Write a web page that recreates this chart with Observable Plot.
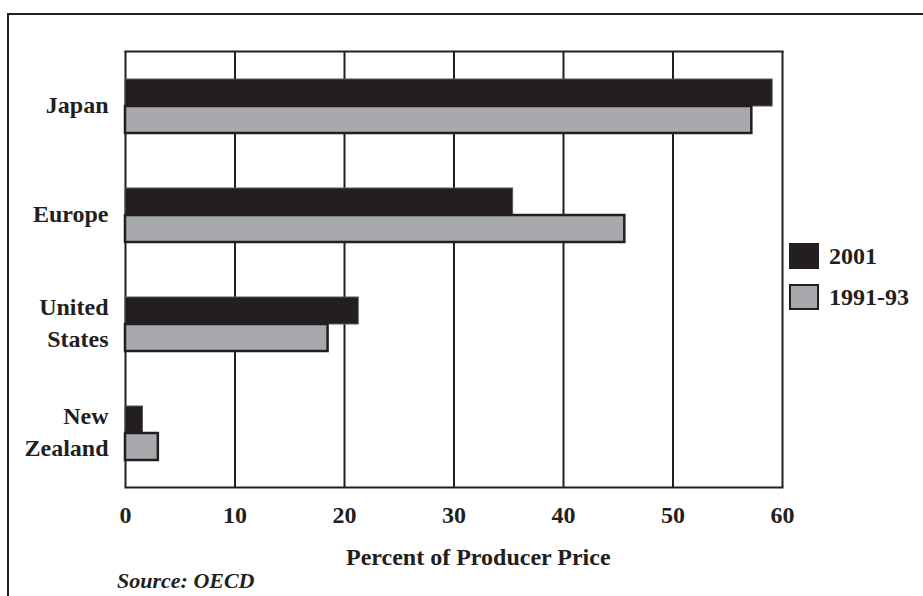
<!DOCTYPE html>
<html>
<head>
<meta charset="utf-8">
<script src="https://cdn.jsdelivr.net/npm/d3@7"></script>
<script src="https://cdn.jsdelivr.net/npm/@observablehq/plot@0.6"></script>
<style>
  body { margin: 0; background: #fff; }
  #wrap { position: relative; width: 923px; height: 596px; overflow: hidden;
          font-family: "Liberation Serif", serif; color: #231f20; }
  #border { position: absolute; left: 7px; top: 13px; right: -10px; bottom: -10px;
            border-top: 2px solid #231f20; border-left: 2px solid #231f20; }
  #chart { position: absolute; left: 0; top: 0; }
  #legend { position: absolute; left: 789px; top: 243px; font-weight: bold; font-size: 24px; }
  .item { display: flex; align-items: center; height: 26px; margin-bottom: 15px; white-space: nowrap; }
  .sw { width: 30px; height: 26px; box-sizing: border-box; margin-right: 10px; }
  #xlabel { position: absolute; left: 346px; top: 544px; font-weight: bold; font-size: 24px; white-space: nowrap; }
  #source { position: absolute; left: 117px; top: 568px; font-style: italic; font-weight: bold; font-size: 22px; }
</style>
</head>
<body>
<div id="wrap">
  <div id="border"></div>
  <div id="chart"></div>
  <div id="legend"></div>
  <div id="xlabel"></div>
  <div id="source">Source: OECD</div>
</div>
<script>
const countries = ["Japan", "Europe", "United States", "New Zealand"];
const series = ["2001", "1991-93"];
const values2001 = [59.1, 35.4, 21.3, 1.6];
const values9193 = [57.2, 45.6, 18.5, 3.0];
const xTicks = [0, 10, 20, 30, 40, 50, 60];
const seriesFill = ["#231f20", "#a7a9ac"];
const seriesStroke = ["#58595b", "#231f20"];
const xLabel = "Percent of Producer Price";

const data = countries.flatMap((c, i) => [
  {country: c, series: series[0], value: values2001[i]},
  {country: c, series: series[1], value: values9193[i]}
]);

const ink = "#231f20";

const chart = Plot.plot({
  width: 923,
  height: 596,
  marginLeft: 125,
  marginRight: 141,
  marginTop: 49,
  marginBottom: 108,
  style: {fontFamily: "'Liberation Serif', serif", fontSize: "24px", fontWeight: "bold",
          color: ink, background: "transparent", overflow: "visible"},
  x: {domain: [0, 60]},
  y: {domain: series, paddingInner: 0, paddingOuter: 1, axis: null},
  fy: {domain: countries, padding: 0},
  color: {domain: series, range: seriesFill},
  marks: [
    Plot.ruleX(xTicks, {stroke: ink, strokeWidth: 2}),
    Plot.barX(data, {filter: d => d.series === series[0], x: "value", y: "series", fy: "country",
                     fill: "series", stroke: seriesStroke[0], strokeWidth: 1}),
    Plot.barX(data, {filter: d => d.series === series[1], x: "value", y: "series", fy: "country",
                     fill: "series", stroke: seriesStroke[1], strokeWidth: 2.5}),
    Plot.frame({anchor: "top", fy: [countries[0]], stroke: ink, strokeWidth: 2}),
    Plot.frame({anchor: "bottom", fy: [countries[countries.length - 1]], stroke: ink, strokeWidth: 2}),
    Plot.axisX({ticks: xTicks, tickSize: 0, tickPadding: 18, label: null}),
    Plot.axisFy({anchor: "left", tickSize: 0, tickPadding: 17, label: null,
                 tickFormat: d => d.replace(" ", "\n"), lineHeight: 1.3, dy: -3})
  ]
});
document.getElementById("chart").appendChild(chart);
document.getElementById("xlabel").textContent = xLabel;

const legend = document.getElementById("legend");
series.forEach((s, i) => {
  const item = document.createElement("div");
  item.className = "item";
  const sw = document.createElement("div");
  sw.className = "sw";
  sw.style.background = seriesFill[i];
  sw.style.border = i === 0 ? "none" : `2.5px solid ${ink}`;
  item.appendChild(sw);
  const t = document.createElement("span");
  t.textContent = s;
  item.appendChild(t);
  legend.appendChild(item);
});
</script>
</body>
</html>
